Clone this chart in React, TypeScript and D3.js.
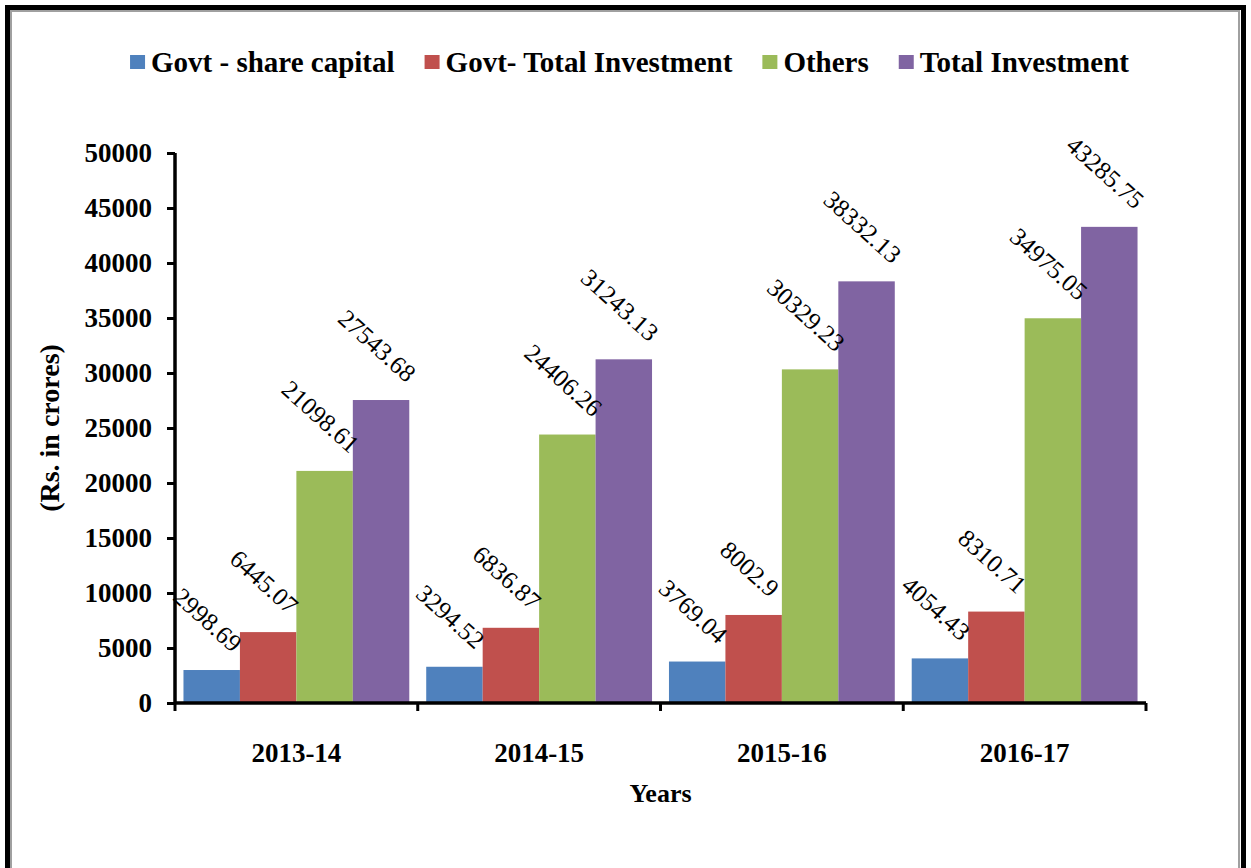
import {useEffect, useRef} from 'react';
import * as d3 from 'd3';

const years = ['2013-14', '2014-15', '2015-16', '2016-17'];
const seriesNames = ['Govt - share capital', 'Govt- Total Investment', 'Others', 'Total Investment'];
const govtShare = [2998.69, 3294.52, 3769.04, 4054.43];
const govtTotal = [6445.07, 6836.87, 8002.9, 8310.71];
const others = [21098.61, 24406.26, 30329.23, 34975.05];
const totalInvestment = [27543.68, 31243.13, 38332.13, 43285.75];
const yTicks = [0, 5000, 10000, 15000, 20000, 25000, 30000, 35000, 40000, 45000, 50000];
const colors = ['#4F81BD', '#C0504D', '#9BBB59', '#8064A2'];

const width = 1251;
const height = 868;
const margin = {top: 153, right: 105, bottom: 165, left: 175};
const FONT = '"Liberation Serif", "Times New Roman", serif';

const Chart = () => {
    const svgRef = useRef<SVGSVGElement>(null);

    useEffect(() => {
        const svg = d3.select(svgRef.current);
        svg.selectAll('*').remove();

        const boundsWidth = width - margin.left - margin.right;
        const boundsHeight = height - margin.top - margin.bottom;
        const allSeries = [govtShare, govtTotal, others, totalInvestment];

        // frame
        svg.append('rect').attr('width', width).attr('height', height).attr('fill', '#fff');
        svg.append('rect')
            .attr('x', 7.5).attr('y', 7.5).attr('width', 1236).attr('height', 900)
            .attr('fill', 'none').attr('stroke', '#000').attr('stroke-width', 5);
        svg.append('rect')
            .attr('x', 11).attr('y', 11).attr('width', 1228).attr('height', 900)
            .attr('fill', 'none').attr('stroke', '#a0a0a0').attr('stroke-width', 2);

        const g = svg.append('g').attr('transform', `translate(${margin.left},${margin.top})`);

        const x0 = d3.scaleBand().domain(years).range([0, boundsWidth]).paddingInner(0).paddingOuter(0);
        const x1 = d3.scaleBand().domain(seriesNames).range([0, x0.bandwidth()]).paddingInner(0).paddingOuter(0.15);
        const y = d3.scaleLinear().domain([0, 50000]).range([boundsHeight, 0]);

        // bars
        seriesNames.forEach((name, si) => {
            const vals = allSeries[si];
            g.selectAll(`.bar-${si}`)
                .data(years)
                .join('rect')
                .attr('x', (d) => (x0(d) ?? 0) + (x1(name) ?? 0))
                .attr('y', (d, i) => y(vals[i]))
                .attr('width', x1.bandwidth())
                .attr('height', (d, i) => boundsHeight - y(vals[i]))
                .attr('fill', colors[si]);
        });

        // data labels, rotated
        const angle = 42;
        const rad = angle * Math.PI / 180;
        seriesNames.forEach((name, si) => {
            const vals = allSeries[si];
            years.forEach((yr, i) => {
                const cx = (x0(yr) ?? 0) + (x1(name) ?? 0) + x1.bandwidth() / 2;
                const top = y(vals[i]);
                const t = g.append('text')
                    .attr('text-anchor', 'middle')
                    .attr('dominant-baseline', 'central')
                    .attr('font-family', FONT)
                    .style('font-family', FONT)
                    .style('font-size', '25px')
                    .attr('fill', '#000')
                    .text(String(vals[i]));
                const L = (t.node() as SVGTextElement).getComputedTextLength();
                const h = 16;
                const halfY = (L * Math.sin(rad) + h * Math.cos(rad)) / 2;
                t.attr('transform', `translate(${cx - 4},${top - 17 - halfY}) rotate(${angle})`);
            });
        });

        // y axis
        const yAxis = g.append('g')
            .call(d3.axisLeft(y).tickValues(yTicks).tickSize(8).tickPadding(15).tickFormat(d3.format('d')));
        yAxis.select('.domain').attr('stroke', '#000').attr('stroke-width', 3.5).attr('d', `M0,0V${boundsHeight}`);
        yAxis.selectAll('.tick line').attr('stroke', '#000').attr('stroke-width', 3);
        yAxis.selectAll('.tick text')
            .style('font-family', FONT).style('font-size', '27px').style('font-weight', 'bold').attr('fill', '#000');

        // x axis
        const xAxis = g.append('g').attr('transform', `translate(0,${boundsHeight})`)
            .call(d3.axisBottom(x0).tickSize(0).tickPadding(40));
        xAxis.select('.domain').attr('stroke', '#000').attr('stroke-width', 3.5).attr('d', `M0,0H${boundsWidth}`);
        xAxis.selectAll('.tick text')
            .style('font-family', FONT).style('font-size', '27px').style('font-weight', 'bold').attr('fill', '#000');
        const bounds = [...years.map((d) => x0(d) ?? 0), boundsWidth];
        xAxis.selectAll('.bound')
            .data(bounds)
            .join('line')
            .attr('x1', (d) => d).attr('x2', (d) => d)
            .attr('y1', 0).attr('y2', 8)
            .attr('stroke', '#000').attr('stroke-width', 3);

        // axis titles
        svg.append('text')
            .attr('x', margin.left + boundsWidth / 2).attr('y', 802)
            .attr('text-anchor', 'middle')
            .style('font-family', FONT).style('font-size', '26px').style('font-weight', 'bold')
            .text('Years');
        svg.append('text')
            .attr('transform', `translate(59,${margin.top + boundsHeight / 2}) rotate(-90)`)
            .attr('text-anchor', 'middle')
            .style('font-family', FONT).style('font-size', '28px').style('font-weight', 'bold')
            .text('(Rs. in crores)');

        // legend
        const legend = svg.append('g').attr('transform', 'translate(0,62)');
        const items = seriesNames.map((name, i) => {
            const it = legend.append('g');
            it.append('rect').attr('y', -7).attr('width', 15).attr('height', 14).attr('fill', colors[i]);
            const txt = it.append('text')
                .attr('x', 21).attr('y', 0).attr('dy', '0.33em')
                .style('font-family', FONT).style('font-size', '29px').style('font-weight', 'bold')
                .text(name);
            const w = 21 + (txt.node() as SVGTextElement).getComputedTextLength();
            return {it, w};
        });
        const gap = 30;
        const total = d3.sum(items, (d) => d.w) + gap * (items.length - 1);
        let cursor = 629.5 - total / 2;
        items.forEach(({it, w}) => {
            it.attr('transform', `translate(${cursor},0)`);
            cursor += w + gap;
        });
    }, []);

    return <svg ref={svgRef} width={width} height={height} style={{position: 'absolute', left: 0, top: 0}}/>;
};

export default function App() {
    return <Chart/>;
}
